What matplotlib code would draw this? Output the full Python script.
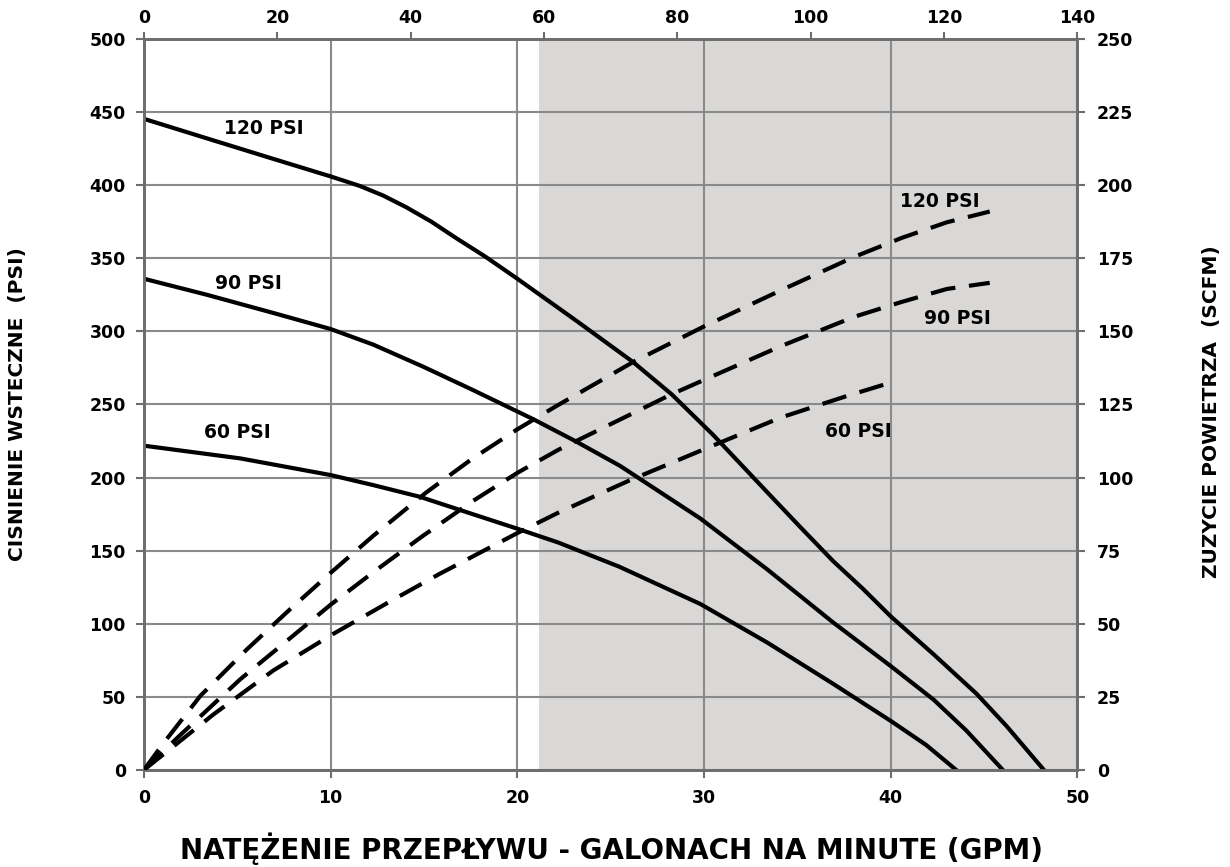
import matplotlib
matplotlib.use("Agg")
import matplotlib.pyplot as plt

# solid curves: back pressure (PSI) vs flow (GPM), left axis
gpm_120 = [0, 3.38, 6.93, 10, 11.56, 12.8, 14.04, 15.4, 16.7, 18.3, 20, 22.2, 23.35, 26.2,
           28.26, 30.5, 33.38, 35.2, 36.9, 38.5, 40, 42.3, 44.6, 46.2, 48.2]
psi_120 = [445.4, 432, 418, 406, 399.5, 393, 385, 375, 364, 351, 336, 316, 305.5, 279,
           257, 229, 190, 165.5, 143, 124, 105, 79, 52, 30, 0]
gpm_90 = [0, 3.38, 6.93, 10, 12.27, 14.93, 17.6, 20.84, 23.17, 25.5, 29.8, 33.4, 36.9,
          40, 42.3, 44.04, 46]
psi_90 = [336, 325, 312.6, 301.6, 291, 276, 260, 240, 224.5, 208, 172, 137, 101,
          71, 48, 27, 0]
gpm_60 = [0, 5.16, 10, 12.26, 14.76, 17.6, 20, 22.2, 25.46, 29.8, 33.4, 36.9, 40, 41.9, 43.5]
psi_60 = [221.8, 213.1, 201.7, 194.9, 186.9, 175, 165, 155.5, 139, 113.5, 87, 59, 33.5, 17, 0]

# dashed curves: air consumption (SCFM) vs flow (GPM), right axis
air_gpm_120 = [0, 1.07, 3.02, 5.51, 7.82, 10, 12.27, 15.1, 17.6, 20, 22.1, 26.2, 30,
               34.1, 38.05, 40.6, 43, 45.3]
scfm_120 = [0, 9.3, 25.3, 41.2, 54.9, 67.4, 80, 94.8, 106.5, 116.5, 124.5, 139.5, 151.7,
            164, 175.5, 182, 187.3, 191]
air_gpm_90 = [0, 1.96, 5.16, 7.82, 10, 12.26, 14.93, 17.6, 20, 22.2, 28.2, 30,
              34.1, 38.05, 40.55, 43, 45.3]
scfm_90 = [0, 12, 31, 45, 56.5, 67.5, 80, 91.9, 101.6, 109.5, 128.3, 133.4,
           144.9, 155, 160, 164.5, 166.6]
air_gpm_60 = [0, 3.73, 6.93, 10, 13.15, 15.82, 20, 22.2, 26, 30.5, 34.1, 37.7, 39.6]
scfm_60 = [0, 19, 34, 46, 57.5, 67, 81, 88, 99, 111, 120.5, 128, 131.7]

SHADE_START = 21.15
GRID = "#8a8a8a"
SPINE = "#6e6e6e"

plt.rcParams["font.family"] = ["DejaVu Sans"]
plt.rcParams["font.weight"] = "bold"

fig = plt.figure(figsize=(12.3, 8.67), dpi=100)
ax = fig.add_axes([0.117, 0.112, 0.759, 0.843])

ax.axvspan(SHADE_START, 50, color="#d9d8d7", zorder=0, lw=0)
ax.set_xlim(0, 50)
ax.set_ylim(0, 500)
ax.set_xticks(range(0, 51, 10))
ax.set_yticks(range(0, 501, 50))
ax.grid(True, color=GRID, lw=1.5)
ax.set_axisbelow(True)
for s in ax.spines.values():
    s.set_color(SPINE)
    s.set_linewidth(2)
ax.tick_params(axis="both", colors=SPINE, width=1.5, length=6, labelsize=12.5,
               labelcolor="black")
ax.tick_params(axis="x", pad=8)
ax.tick_params(axis="y", pad=7)

for x, y in [(gpm_120, psi_120), (gpm_90, psi_90), (gpm_60, psi_60)]:
    ax.plot(x, y, color="black", lw=3, zorder=5, solid_joinstyle="round")

ax2 = ax.twinx()
ax2.set_ylim(0, 250)
ax2.set_yticks(range(0, 251, 25))
ax2.tick_params(axis="y", colors=SPINE, width=1.5, length=6, labelsize=12.5,
                labelcolor="black", pad=8)
for s in ax2.spines.values():
    s.set_color(SPINE)
    s.set_linewidth(2)
for x, y in [(air_gpm_120, scfm_120), (air_gpm_90, scfm_90), (air_gpm_60, scfm_60)]:
    ax2.plot(x, y, color="black", lw=3, dashes=(6, 3.3), zorder=5,
             dash_joinstyle="round")

top = ax.secondary_xaxis("top", functions=(lambda v: v * 2.8, lambda v: v / 2.8))
top.set_xticks(range(0, 141, 20))
top.tick_params(colors=SPINE, width=1.5, length=5, labelsize=12.5, labelcolor="black")

for lab in ax.get_xticklabels() + ax.get_yticklabels() + ax2.get_yticklabels() + top.get_xticklabels():
    lab.set_fontweight("bold")

# curve labels
lab_kw = dict(fontsize=13.5, fontweight="bold", ha="left", va="center")
ax.text(4.3, 439, "120 PSI", **lab_kw)
ax.text(3.8, 333, "90 PSI", **lab_kw)
ax.text(3.2, 230.5, "60 PSI", **lab_kw)
ax2.text(40.5, 194.5, "120 PSI", **lab_kw)
ax2.text(41.8, 154.5, "90 PSI", **lab_kw)
ax2.text(36.5, 115.6, "60 PSI", **lab_kw)

fig.text(0.497, 0.009, "NATĘŻENIE PRZEPŁYWU - GALONACH NA MINUTE (GPM)",
         fontsize=20, fontweight="bold", ha="center", va="baseline")
fig.text(0.0146, 0.534, "CISNIENIE WSTECZNE  (PSI)", fontsize=14.5, fontweight="bold",
         rotation=90, ha="center", va="center")
fig.text(0.985, 0.525, "ZUZYCIE POWIETRZA  (SCFM)", fontsize=14.5, fontweight="bold",
         rotation=90, ha="center", va="center")

fig.savefig("out.png", dpi=100)
